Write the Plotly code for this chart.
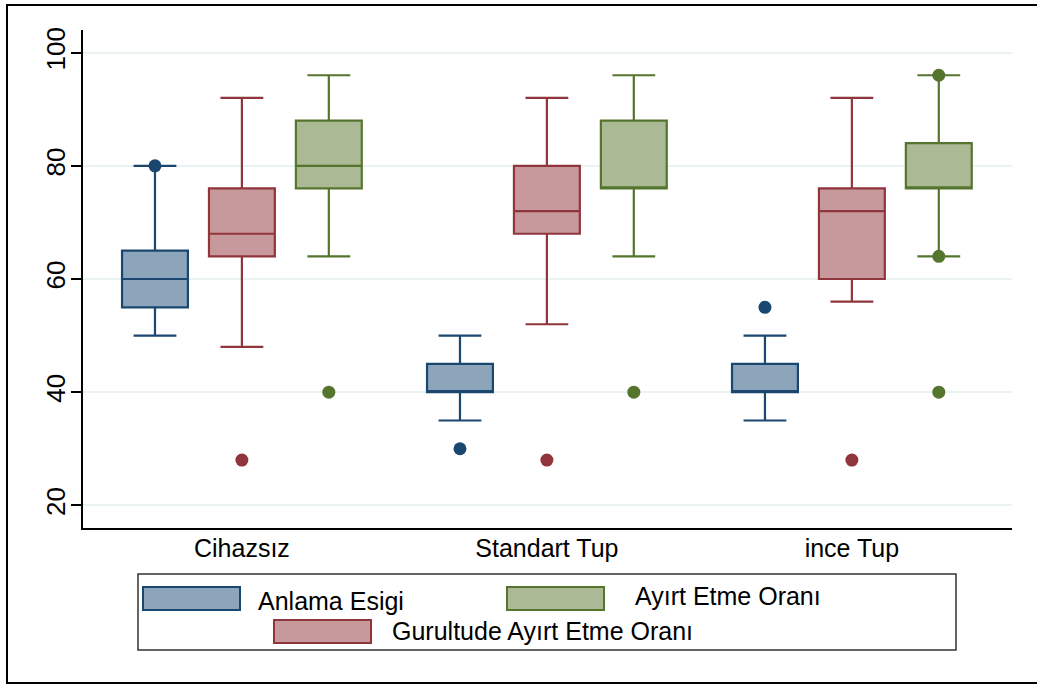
import plotly.graph_objects as go

# ---------------- data ----------------
categories = ["Cihazsız", "Standart Tup", "ince Tup"]
series_names = ["Anlama Esigi", "Gurultude Ayırt Etme Oranı", "Ayırt Etme Oranı"]

anlama_q1 = [55, 40, 40]
anlama_median = [60, 40, 40]
anlama_q3 = [65, 45, 45]
anlama_low = [50, 35, 35]
anlama_high = [80, 50, 50]
anlama_outliers = [[80], [30], [55]]

gurultu_q1 = [64, 68, 60]
gurultu_median = [68, 72, 72]
gurultu_q3 = [76, 80, 76]
gurultu_low = [48, 52, 56]
gurultu_high = [92, 92, 92]
gurultu_outliers = [[28], [28], [28]]

ayirt_q1 = [76, 76, 76]
ayirt_median = [80, 76, 76]
ayirt_q3 = [88, 88, 84]
ayirt_low = [64, 64, 64]
ayirt_high = [96, 96, 96]
ayirt_outliers = [[40], [40], [40, 64, 96]]

y_ticks = [20, 40, 60, 80, 100]

# ---------------- styles ----------------
line_colors = ["#1a476f", "#90353b", "#55752f"]
fill_colors = ["#8da5bb", "#c8999c", "#abb995"]
FONT = "Liberation Sans, Arial, sans-serif"

W, H = 1037, 684
L, R, T, B = 83, 1012, 30, 528   # plot area in pixels


def px(x):
    return (x - L) / (R - L)


def py(y):
    return (B - y) / (B - T)


series = [
    (anlama_q1, anlama_median, anlama_q3, anlama_low, anlama_high, anlama_outliers),
    (gurultu_q1, gurultu_median, gurultu_q3, gurultu_low, gurultu_high, gurultu_outliers),
    (ayirt_q1, ayirt_median, ayirt_q3, ayirt_low, ayirt_high, ayirt_outliers),
]

offset = 0.285
box_w = 0.216

fig = go.Figure()
for s, (q1, med, q3, lo, hi, outl) in enumerate(series):
    xs = [i + (s - 1) * offset for i in range(len(categories))]
    fig.add_trace(go.Box(
        x=xs, q1=q1, median=med, q3=q3, lowerfence=lo, upperfence=hi,
        name=series_names[s], width=box_w, whiskerwidth=0.65,
        fillcolor=fill_colors[s], line=dict(color=line_colors[s], width=2.2),
        boxpoints=False, showlegend=False,
    ))
    ox, oy = [], []
    for i, vals in enumerate(outl):
        for v in vals:
            ox.append(xs[i])
            oy.append(v)
    fig.add_trace(go.Scatter(
        x=ox, y=oy, mode="markers", showlegend=False,
        marker=dict(color=line_colors[s], size=13, line=dict(width=0)),
    ))

shapes = []
annotations = []
# outer frame
shapes.append(dict(type="rect", xref="paper", yref="paper",
                   x0=px(7), x1=px(1060), y0=py(683), y1=py(5),
                   line=dict(color="#000000", width=2), fillcolor="rgba(0,0,0,0)",
                   layer="below"))
# legend box
shapes.append(dict(type="rect", xref="paper", yref="paper",
                   x0=px(138), x1=px(956), y0=py(650), y1=py(574),
                   line=dict(color="#333333", width=1.5), fillcolor="white"))
legend_items = [
    (0, 143, 240, 587, 610, 256, 601),
    (2, 507, 604, 587, 610, 633, 596),
    (1, 274, 371, 620, 643, 390, 631),
]
for s, x0, x1, y0, y1, tx, ty in legend_items:
    shapes.append(dict(type="rect", xref="paper", yref="paper",
                       x0=px(x0), x1=px(x1), y0=py(y1), y1=py(y0),
                       line=dict(color=line_colors[s], width=2),
                       fillcolor=fill_colors[s]))
    annotations.append(dict(xref="paper", yref="paper", x=px(tx), y=py(ty),
                            text=series_names[s], showarrow=False,
                            xanchor="left", yanchor="middle",
                            font=dict(family=FONT, size=25, color="#000000")))

fig.update_layout(
    width=W, height=H,
    margin=dict(l=L, r=W - R, t=T, b=H - B, pad=0),
    paper_bgcolor="white", plot_bgcolor="white",
    shapes=shapes, annotations=annotations,
    showlegend=False,
    font=dict(family=FONT, color="#000000"),
)
fig.update_xaxes(
    range=[-0.521, 2.525], tickmode="array",
    tickvals=list(range(len(categories))), ticktext=categories,
    tickfont=dict(family=FONT, size=25, color="#000000"),
    showline=True, linecolor="#000000", linewidth=1.5,
    showgrid=False, zeroline=False, ticks="", ticklabelstandoff=-3,
)
fig.update_yaxes(
    range=[16, 104], tickmode="array", tickvals=y_ticks,
    tickangle=-90, tickfont=dict(family=FONT, size=26, color="#000000"),
    showline=True, linecolor="#000000", linewidth=1.5,
    ticks="outside", ticklen=10, tickcolor="#000000", tickwidth=1.5,
    showgrid=True, gridcolor="#eaf2f3", gridwidth=2, zeroline=False,
    ticklabelstandoff=-4,
)

fig.write_html(
    "out.html",
    config={"displayModeBar": False},
    post_script="document.body.style.margin='0px';document.body.style.overflow='hidden';",
)
